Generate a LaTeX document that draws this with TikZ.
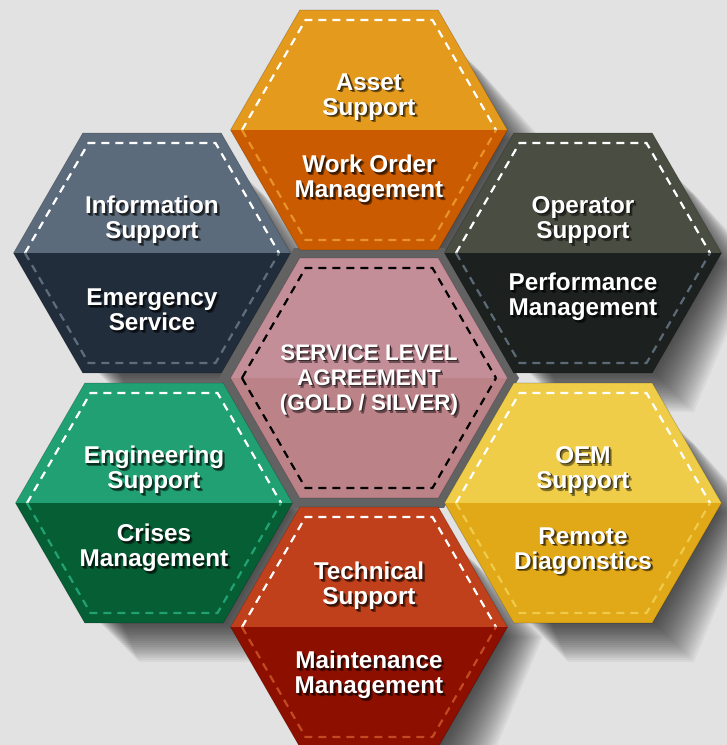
\documentclass[tikz,border=0pt]{standalone}
\usepackage{fontspec}
\setmainfont{Liberation Sans}
\definecolor{bgc}{HTML}{E2E2E2}
\definecolor{tU}{HTML}{E49A1C}\definecolor{tL}{HTML}{CB5B00}\definecolor{tD}{HTML}{E8922A}
\definecolor{ltU}{HTML}{5C6B7B}\definecolor{ltL}{HTML}{222D3C}\definecolor{ltD}{HTML}{5E6D7C}
\definecolor{rtU}{HTML}{4A4D41}\definecolor{rtL}{HTML}{1C2120}\definecolor{rtD}{HTML}{5C6A75}
\definecolor{cU}{HTML}{C48E99}\definecolor{cL}{HTML}{BB8288}
\definecolor{lbU}{HTML}{21A073}\definecolor{lbL}{HTML}{055E34}\definecolor{lbD}{HTML}{22A273}
\definecolor{rbU}{HTML}{EFCD48}\definecolor{rbL}{HTML}{E1A818}\definecolor{rbD}{HTML}{F0CB4A}
\definecolor{bU}{HTML}{C0401C}\definecolor{bL}{HTML}{8C0F00}\definecolor{bD}{HTML}{C14A22}
\definecolor{gapc}{HTML}{626262}
\newcommand\hexpath[3]{(#1+#3,#2) -- (#1+0.5*#3,#2-0.8660254*#3) -- (#1-0.5*#3,#2-0.8660254*#3) -- (#1-#3,#2) -- (#1-0.5*#3,#2+0.8660254*#3) -- (#1+0.5*#3,#2+0.8660254*#3) -- cycle}
\newcommand\hexshadow[2]{%
  \foreach \k in {0,...,21}{\fill[black,opacity=0.042] \hexpath{#1+8}{#2+10}{126+1.9*\k};}}
\newcommand\hextile[6]{% cx cy upper lower lowerdash upperdash
  \fill[#3] (#1-138.5,#2) -- (#1-69.25,#2-119.94) -- (#1+69.25,#2-119.94) -- (#1+138.5,#2) -- cycle;
  \fill[#4] (#1-138.5,#2) -- (#1-69.25,#2+119.94) -- (#1+69.25,#2+119.94) -- (#1+138.5,#2) -- cycle;
  \draw[black,opacity=0.2,line width=0.7pt] \hexpath{#1}{#2}{138.5};
  \draw[dashline,#6] (#1-127,#2) -- (#1-63.5,#2-110) -- (#1+63.5,#2-110) -- (#1+127,#2);
  \draw[dashline,#5] (#1-127,#2) -- (#1-63.5,#2+110) -- (#1+63.5,#2+110) -- (#1+127,#2);}
% text with a drop shadow, in one node: #1 = colour under the text, #2 = text
\newcommand\shtxt[2]{\leavevmode
  \rlap{\kern2.6pt\smash{\raisebox{-2.6pt}{\textcolor{#1!55!black}{#2}}}}%
  \rlap{\kern1.4pt\smash{\raisebox{-1.4pt}{\textcolor{#1!30!black}{#2}}}}%
  #2}
\tikzset{
  lbl/.style={text=white,font=\bfseries\fontsize{24.3}{25}\selectfont,align=center,inner sep=0pt},
  lblc/.style={lbl,font=\bfseries\fontsize{22.5}{25}\selectfont},
  dashline/.style={line width=2.2pt,dash pattern=on 8pt off 6pt}
}
\begin{document}
\begin{tikzpicture}[x=1pt,y=-1pt]
\fill[bgc] (0,0) rectangle (727,745);
\useasboundingbox (0,0) rectangle (727,745);
% shadows
\hexshadow{369}{130}
\hexshadow{152}{253}
\hexshadow{583}{253}
\hexshadow{154}{503}
\hexshadow{583}{503}
\hexshadow{369}{627}
\fill[gapc] \hexpath{369}{378}{150};
% tiles
\hextile{369}{130}{tU}{tL}{tD}{white}
\hextile{152}{253}{ltU}{ltL}{ltD}{white}
\hextile{583}{253}{rtU}{rtL}{rtD}{white}
\hextile{369}{378}{cU}{cL}{black}{black}
\hextile{154}{503}{lbU}{lbL}{lbD}{white}
\hextile{583}{503}{rbU}{rbL}{rbD}{white}
\hextile{369}{627}{bU}{bL}{bD}{white}
% labels
\node[lbl] (asset) at (369,97) {\shtxt{tU}{Asset}\\\shtxt{tU}{Support}};
\node[lbl] (workorder) at (369,179) {\shtxt{tL}{Work Order}\\\shtxt{tL}{Management}};
\node[lbl] (info) at (152,220) {\shtxt{ltU}{Information}\\\shtxt{ltU}{Support}};
\node[lbl] (emergency) at (152,310) {\shtxt{ltL}{Emergency}\\\shtxt{ltL}{Service}};
\node[lbl] (operator) at (583,220) {\shtxt{rtU}{Operator}\\\shtxt{rtU}{Support}};
\node[lbl] (performance) at (583,297) {\shtxt{rtL}{Performance}\\\shtxt{rtL}{Management}};
\node[lblc] (sla) at (369,380) {\shtxt{cU}{SERVICE LEVEL}\\\shtxt{cU}{AGREEMENT}\\\shtxt{cL}{(GOLD / SILVER)}};
\node[lbl] (engineering) at (154,470) {\shtxt{lbU}{Engineering}\\\shtxt{lbU}{Support}};
\node[lbl] (crises) at (154,548) {\shtxt{lbL}{Crises}\\\shtxt{lbL}{Management}};
\node[lbl] (oem) at (583,470) {\shtxt{rbU}{OEM}\\\shtxt{rbU}{Support}};
\node[lbl] (remote) at (583,551) {\shtxt{rbL}{Remote}\\\shtxt{rbL}{Diagonstics}};
\node[lbl] (technical) at (369,586) {\shtxt{bU}{Technical}\\\shtxt{bU}{Support}};
\node[lbl] (maintenance) at (369,675) {\shtxt{bL}{Maintenance}\\\shtxt{bL}{Management}};
\end{tikzpicture}
\end{document}
